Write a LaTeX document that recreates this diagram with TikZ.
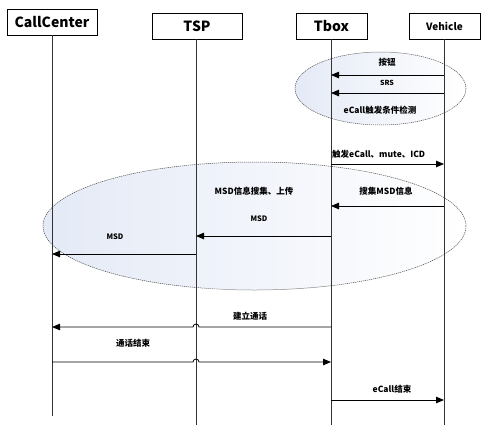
\documentclass[tikz,border=0pt]{standalone}
\usepackage{fontspec}
\setmainfont{Noto Sans CJK SC}
\usetikzlibrary{arrows.meta}
\tikzset{
  actor/.style={draw, line width=0.5pt, minimum height=26pt, inner sep=0pt, font=\bfseries, text=black},
  life/.style={line width=0.8pt, black!80},
  msg/.style={line width=0.8pt, -{Triangle[length=8pt,width=6.5pt]}},
  lbl/.style={font=\bfseries\fontsize{8.5}{10}\selectfont, inner sep=0pt},
  zone/.style={draw=black!70, dash pattern=on 1.2pt off 0.8pt, line width=0.5pt, left color={rgb,255:red,228;green,234;blue,246}, right color=white}
}
\begin{document}
\begin{tikzpicture}[x=1pt,y=-1pt]
\useasboundingbox (0,0) rectangle (489,429);
% zones
\path[zone] (380.5,88.5) ellipse [x radius=85.5, y radius=36.5];
\path[zone] (254.5,226) ellipse [x radius=211.5, y radius=64];
% actors
\node[actor, minimum width=90pt, font=\bfseries\fontsize{14}{16}\selectfont] (cc) at (52,22) {CallCenter};
\node[actor, minimum width=90pt, font=\bfseries\fontsize{14}{16}\selectfont] (tsp) at (197,26) {TSP};
\node[actor, minimum width=71pt, font=\bfseries\fontsize{14}{16}\selectfont] (tbox) at (331.5,26) {Tbox};
\node[actor, minimum width=71pt, font=\bfseries\fontsize{10}{12}\selectfont] (veh) at (444.5,26) {Vehicle};
% lifelines
\coordinate (ccE) at (52,416);
\coordinate (tspE) at (196,425);
\coordinate (tboxE) at (331,425);
\coordinate (vehE) at (444,425);
\draw[life] (cc.south -| ccE) -- (ccE);
\draw[life] (tsp.south -| tspE) -- (tspE);
\draw[life] (tbox.south -| tboxE) -- (tboxE);
\draw[life] (veh.south -| vehE) -- (vehE);
% messages
\node[lbl] (l1) at (387,62) {按钮};
\draw[msg] (vehE |- 0,75) -- (tboxE |- 0,75);
\node[lbl, font=\bfseries\fontsize{7}{8}\selectfont] (l2) at (387,83) {SRS};
\draw[msg] (vehE |- 0,93) -- (tboxE |- 0,93);
\node[lbl] (l3) at (380,110) {eCall触发条件检测};
\node[lbl, anchor=west] (l4) at (332,154) {触发eCall、mute、ICD};
\draw[msg] (tboxE |- 0,164) -- (vehE |- 0,164);
\node[lbl] (l5) at (386,191) {搜集MSD信息};
\draw[msg] (vehE |- 0,206) -- (tboxE |- 0,206);
\node[lbl] (l6) at (254,191) {MSD信息搜集、上传};
\node[lbl, font=\bfseries\fontsize{7.5}{9}\selectfont] (l7) at (259,219) {MSD};
\draw[msg] (tboxE |- 0,236) -- (tspE |- 0,236);
\node[lbl, font=\bfseries\fontsize{7.5}{9}\selectfont] (l8) at (115,237) {MSD};
\draw[msg] (tspE |- 0,254) -- (ccE |- 0,254);
\node[lbl] (l9) at (250,316) {建立通话};
\draw[msg] (tboxE |- 0,327) -- ([xshift=3pt]tspE |- 0,327) arc[start angle=0,end angle=180,radius=3pt] -- (ccE |- 0,327);
\node[lbl] (l10) at (133,343) {通话结束};
\draw[msg] (ccE |- 0,362) -- ([xshift=-3pt]tspE |- 0,362) arc[start angle=180,end angle=0,radius=3pt] -- (tboxE |- 0,362);
\node[lbl] (l11) at (392,389) {eCall结束};
\draw[msg] (tboxE |- 0,400) -- (vehE |- 0,400);
\end{tikzpicture}
\end{document}
